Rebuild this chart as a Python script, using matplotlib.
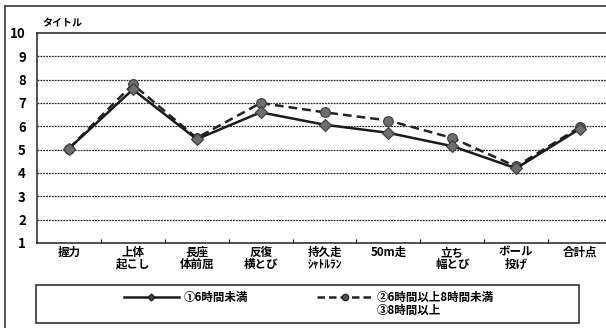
import matplotlib
matplotlib.use("Agg")
import matplotlib.pyplot as plt
import matplotlib.patches as patches
from matplotlib.lines import Line2D

plt.rcParams['font.family'] = ['Noto Sans CJK JP', 'DejaVu Sans']

# categories and series values
categories = ["握力", "上体\n起こし", "長座\n体前屈", "反復\n横とび", "持久走\nｼｬﾄﾙﾗﾝ",
              "50m走", "立ち\n幅とび", "ボール\n投げ", "合計点"]
under6 = [5.05, 7.58, 5.45, 6.6, 6.07, 5.72, 5.15, 4.2, 5.9]
from6to8 = [5.05, 7.8, 5.5, 7.0, 6.6, 6.25, 5.5, 4.28, 5.97]
label1 = "①6時間未満"
label2 = "②6時間以上8時間未満"
label3 = "③8時間以上"
title = "タイトル"
y_ticks = [1, 2, 3, 4, 5, 6, 7, 8, 9, 10]

W, H = 606, 328
fig = plt.figure(figsize=(W / 100, H / 100), dpi=100)
fig.patch.set_facecolor("white")

# axes extend a little past the right edge, like the scanned original
ax = fig.add_axes([37 / W, 1 - 243 / H, (612 - 37) / W, (243 - 33) / H])

x = list(range(len(categories)))
ax.plot(x, from6to8, color="#222222", lw=1.8, ls=(0, (3.5, 2)),
        marker="o", ms=7, mfc="#6e6e6e", mec="#3a3a3a", mew=0.8, zorder=3)
ax.plot(x, under6, color="#1a1a1a", lw=1.8, ls="-",
        marker="D", ms=6, mfc="#6e6e6e", mec="#3a3a3a", mew=0.8, zorder=4)

ax.set_xlim(-0.5, len(categories) - 0.5)
ax.set_ylim(1, 10)
ax.set_yticks(y_ticks)
ax.set_yticklabels([str(v) for v in y_ticks], fontsize=9.5, fontweight="bold")
ax.tick_params(axis="y", length=0, pad=8)

ax.set_xticks(x)
ax.set_xticklabels(categories, fontsize=8.3, fontweight="bold", linespacing=0.9)
ax.set_xticks([i + 0.5 for i in x[:-1]], minor=True)
ax.tick_params(axis="x", which="major", length=0, pad=2)
ax.tick_params(axis="x", which="minor", direction="in", length=3, width=0.8)

for v in y_ticks[1:-1]:
    ax.axhline(v, color="#2a2a2a", lw=0.9, ls=(0, (1.5, 0.8)), zorder=1)

for side in ["top", "left", "bottom"]:
    ax.spines[side].set_linewidth(1.1)
    ax.spines[side].set_color("#222222")
ax.spines["right"].set_visible(False)

ax.annotate(title, xy=(0, 1), xycoords="axes fraction", xytext=(4, 3),
            textcoords="offset points", fontsize=7.2, fontweight="bold",
            ha="left", va="bottom")

# outer border of the scanned sheet (left and top only visible)
fig.add_artist(patches.Rectangle((5 / W, -0.1), 1.2, 1.1 - 6 / H,
                                 transform=fig.transFigure, fill=False,
                                 lw=1.2, ec="#333333"))

# legend box
fig.add_artist(patches.Rectangle((36 / W, 1 - 323 / H), (579 - 36) / W, 38 / H,
                                 transform=fig.transFigure, fill=False,
                                 lw=1.1, ec="#222222"))

h1 = Line2D([], [], color="#1a1a1a", lw=1.8, marker="D", ms=3.5,
            mfc="#444444", mec="#222222")
h2 = Line2D([], [], color="#222222", lw=1.8, ls=(0, (3, 1.6)), marker="o", ms=4.5,
            mfc="#555555", mec="#222222")
blank = Line2D([], [], ls="none", marker=None)
blank2 = Line2D([], [], ls="none", marker=None)
fig.legend([h1, blank, h2, blank2], [label1, "", label2, label3],
           loc="center", bbox_to_anchor=(309 / W, 1 - 304 / H), ncol=2,
           frameon=False, prop={"weight": "bold", "size": 8.3},
           handlelength=4.8, handletextpad=0.4, columnspacing=6.0,
           labelspacing=0.0)

fig.savefig("out.png", dpi=100)
